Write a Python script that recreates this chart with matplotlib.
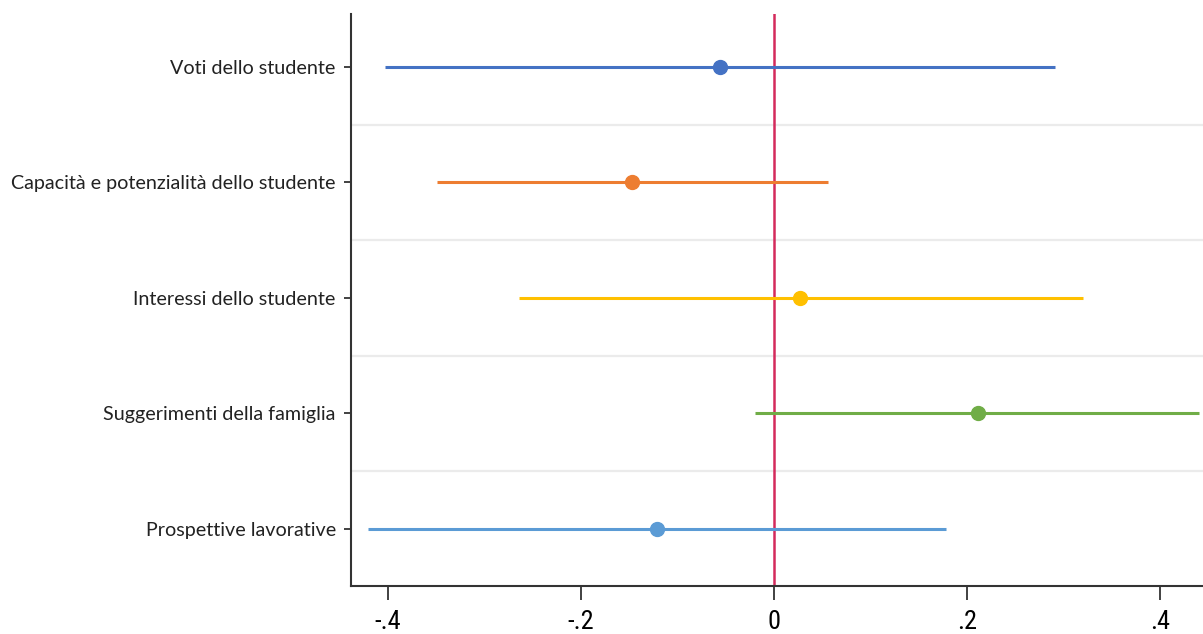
import matplotlib
matplotlib.use('Agg')
import matplotlib.pyplot as plt
from matplotlib import font_manager

# Categories (top to bottom)
labels = ['Voti dello studente',
          'Capacità e potenzialità dello studente',
          'Interessi dello studente',
          'Suggerimenti della famiglia',
          'Prospettive lavorative']
# Point estimates and confidence intervals
coef = [-0.056, -0.147, 0.027, 0.211, -0.121]
ci_low = [-0.403, -0.349, -0.264, -0.019, -0.420]
ci_high = [0.291, 0.056, 0.320, 0.440, 0.178]
colors = ['#4472C4', '#ED7D31', '#FFC000', '#70AD47', '#5B9BD5']
xticks = [-0.4, -0.2, 0, 0.2, 0.4]
xticklabels = ['-.4', '-.2', '0', '.2', '.4']

names = {f.name for f in font_manager.fontManager.ttflist}
narrow = [n for n in ['Liberation Sans Narrow', 'Roboto Condensed', 'Open Sans Condensed', 'DejaVu Sans Condensed'] if n in names]
tick_font = narrow[0] if narrow else 'Lato'

fig = plt.figure(figsize=(12.03, 6.34), dpi=100)
ax = fig.add_axes([0.2918, 0.0757, 0.7082, 0.9023])

ypos = list(range(1, len(labels) + 1))

# light separators between rows
for y in ypos[:-1]:
    ax.axhline(y + 0.5, color='#EBEBEB', lw=1.6, zorder=0)

ax.axvline(0, color='#D42A5C', lw=1.8, zorder=1)

for y, c, lo, hi, col in zip(ypos, coef, ci_low, ci_high, colors):
    ax.plot([lo, hi], [y, y], color=col, lw=2.2, zorder=2, solid_capstyle='butt')
    ax.plot(c, y, 'o', color=col, ms=10, zorder=3)

ax.set_xlim(-0.438, 0.4446)
ax.set_ylim(5.494, 0.541)

ax.set_yticks(ypos)
ax.set_yticklabels(labels, fontsize=14.2, family='Lato', color='#222222')
ax.set_xticks(xticks)
ax.set_xticklabels(xticklabels, fontsize=19, family=tick_font)

for s in ['top', 'right']:
    ax.spines[s].set_visible(False)
for s in ['left', 'bottom']:
    ax.spines[s].set_linewidth(1.5)
    ax.spines[s].set_color('#333333')
ax.tick_params(axis='y', length=5, width=1.3, color='#333333', pad=6)
ax.tick_params(axis='x', length=10, width=1.3, color='#333333', pad=7)

fig.savefig('out.png', dpi=100)
